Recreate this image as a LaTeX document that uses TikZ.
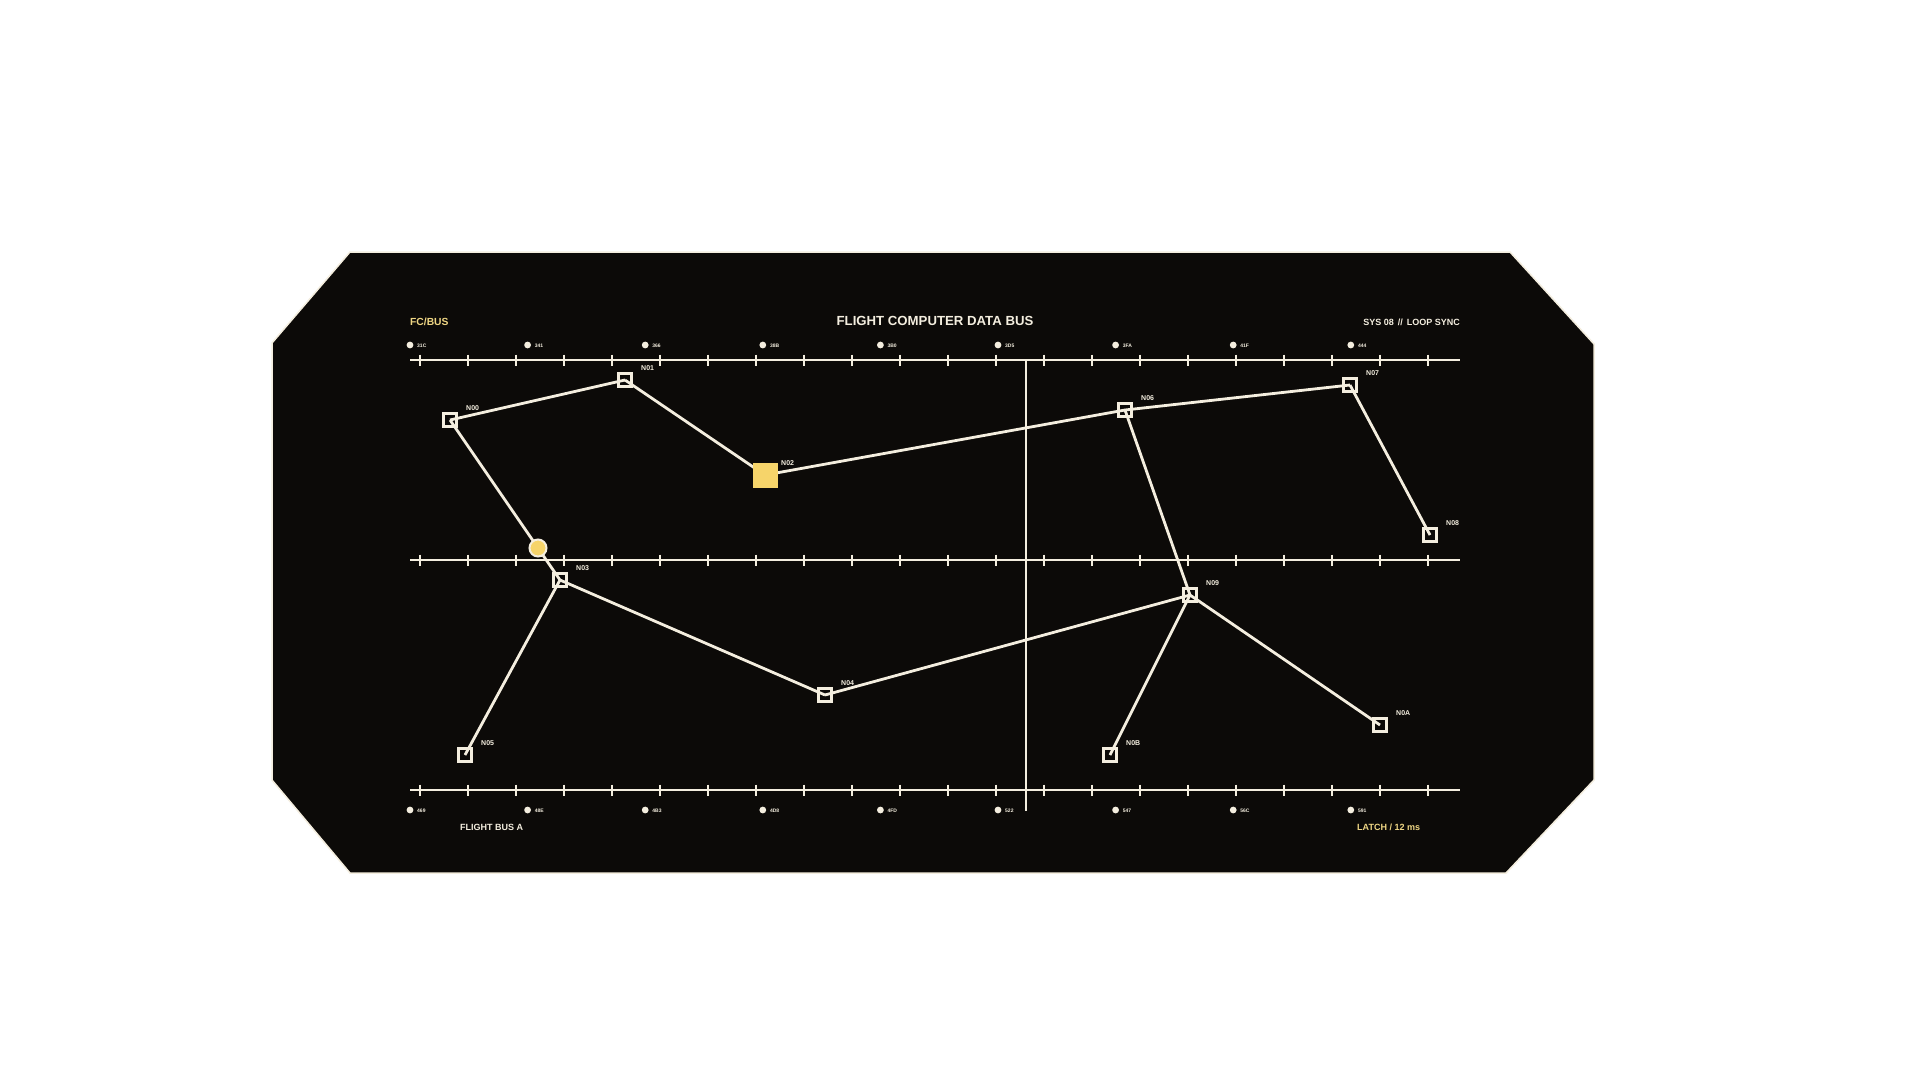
\documentclass[tikz,border=0pt]{standalone}
\usepackage{fontspec}
\setmainfont{Liberation Sans}
\definecolor{bg}{HTML}{0C0A08}
\definecolor{cream}{HTML}{F4EEDF}
\definecolor{gold}{HTML}{F6D46A}
\definecolor{goldtxt}{HTML}{EFD684}
\pgfdeclarelayer{panel}
\pgfdeclarelayer{links}
\pgfsetlayers{panel,links,main}
\begin{document}
\begin{tikzpicture}[x=1pt,y=-1pt,
  nbox/.style={rectangle,draw=cream,line width=2.7pt,minimum size=13.5pt,inner sep=0pt},
  link/.style={draw=cream,line width=2.8pt},
  nlabel/.style={anchor=west,text=cream,font=\bfseries\fontsize{7}{7}\selectfont,inner sep=0pt},
  dlabel/.style={anchor=west,text=cream,font=\bfseries\fontsize{5}{5}\selectfont,inner sep=0pt},
  tdot/.style={circle,fill=cream,inner sep=0pt,minimum size=6.8pt},
  axisline/.style={draw=cream,line width=1.8pt},
  tickline/.style={draw=cream,line width=1.4pt},
  small/.style={inner sep=0pt,font=\bfseries\fontsize{9}{9}\selectfont}
]
\useasboundingbox (0,0) rectangle (1920,1080);
\begin{pgfonlayer}{panel}
\fill[white] (0,0) rectangle (1920,1080);
\filldraw[fill=bg,draw=cream,line width=1.5pt]
  (350,252) -- (1510,252) -- (1594,344) -- (1594,780) -- (1506,873)
  -- (350,873) -- (272,780) -- (272,343) -- cycle;
% axes
\foreach \yy in {360,560,790}{
  \draw[axisline] (410,\yy) -- (1460,\yy);
  \foreach \k in {0,...,21}{
    \draw[tickline] ({420+48*\k},{\yy-5.5}) -- ({420+48*\k},{\yy+5.5});
  }
}
% vertical marker
\draw[draw=cream,line width=2.8pt] (1026,360) -- (1026,811);
\end{pgfonlayer}

% dots with labels
\foreach \lab [count=\i from 0] in {31C,341,366,38B,3B0,3D5,3FA,41F,444}{
  \node[tdot] (td\i) at ({410+117.6*\i},345) {};
  \node[dlabel] (tl\i) at ({417+117.6*\i},345.5) {\lab};
}
\foreach \lab [count=\i from 0] in {469,48E,4B3,4D8,4FD,522,547,56C,591}{
  \node[tdot] (bd\i) at ({410+117.6*\i},810) {};
  \node[dlabel] (bl\i) at ({417+117.6*\i},810.5) {\lab};
}

% header / footer texts
\node[small,anchor=west,text=goldtxt,font=\bfseries\fontsize{10.3}{10}\selectfont] (fcbus) at (410,322) {FC/BUS};
\node[inner sep=0pt,text=cream,font=\bfseries\fontsize{13.2}{13}\selectfont] (title) at (935,321) {FLIGHT COMPUTER DATA BUS};
\node[small,anchor=east,text=cream] (sys) at (1460,322) {SYS 08 \,//\, LOOP SYNC};
\node[small,anchor=west,text=cream] (fbus) at (460,827) {FLIGHT BUS A};
\node[small,anchor=west,text=goldtxt] (latch) at (1357,827) {LATCH / 12 ms};

% nodes
\node[nbox] (n00) at (450,420) {};
\node[nbox] (n01) at (625,380) {};
\node[rectangle,fill=gold,minimum size=25pt,inner sep=0pt] (n02) at (765,475) {};
\node[nbox] (n03) at (560,580) {};
\node[nbox] (n04) at (825,695) {};
\node[nbox] (n05) at (465,755) {};
\node[nbox] (n06) at (1125,410) {};
\node[nbox] (n07) at (1350,385) {};
\node[nbox] (n08) at (1430,535) {};
\node[nbox] (n09) at (1190,595) {};
\node[nbox] (n0a) at (1380,725) {};
\node[nbox] (n0b) at (1110,755) {};
\node[circle,fill=gold,draw=cream,line width=2pt,minimum size=17pt,inner sep=0pt] (tap) at (538,548) {};

% labels
\node[nlabel] (l00) at (466,408) {N00};
\node[nlabel] (l01) at (641,368) {N01};
\node[nlabel] (l02) at (781,463) {N02};
\node[nlabel] (l03) at (576,568) {N03};
\node[nlabel] (l04) at (841,683) {N04};
\node[nlabel] (l05) at (481,743) {N05};
\node[nlabel] (l06) at (1141,398) {N06};
\node[nlabel] (l07) at (1366,373) {N07};
\node[nlabel] (l08) at (1446,523) {N08};
\node[nlabel] (l09) at (1206,583) {N09};
\node[nlabel] (l0a) at (1396,713) {N0A};
\node[nlabel] (l0b) at (1126,743) {N0B};

% links
\begin{pgfonlayer}{links}
\draw[link] (n00.center) -- (n01.center);
\draw[link] (n01.center) -- (n02.center);
\draw[link] (n02.center) -- (n06.center);
\draw[link] (n06.center) -- (n07.center);
\draw[link] (n07.center) -- (n08.center);
\draw[link] (n00.center) -- (n03.center);
\draw[link] (n03.center) -- (n05.center);
\draw[link] (n03.center) -- (n04.center);
\draw[link] (n04.center) -- (n09.center);
\draw[link] (n06.center) -- (n09.center);
\draw[link] (n09.center) -- (n0b.center);
\draw[link] (n09.center) -- (n0a.center);
\end{pgfonlayer}
\end{tikzpicture}
\end{document}
